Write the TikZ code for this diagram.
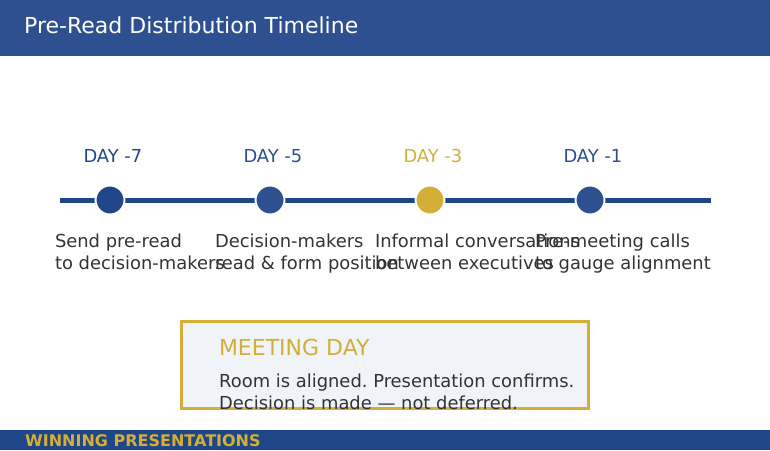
\documentclass[tikz,border=0pt]{standalone}
\usepackage{fontspec}
\setmainfont{DejaVu Sans}
\frenchspacing
\definecolor{headblue}{HTML}{2E5090}
\definecolor{deepblue}{HTML}{1F4788}
\definecolor{gold}{HTML}{D4AF37}
\definecolor{inkgray}{HTML}{333333}
\definecolor{paleblue}{HTML}{F0F3F8}
\begin{document}
\begin{tikzpicture}[x=1pt,y=-1pt,
    daydot/.style={circle,draw=white,line width=2pt,minimum size=29pt,inner sep=0pt},
    daylabel/.style={anchor=base west,inner sep=0pt,font=\fontsize{17.9}{22}\selectfont},
    steptext/.style={anchor=base west,inner sep=0pt,align=left,text=inkgray,font=\fontsize{17.9}{22}\selectfont},
    meetbox/.style={draw=gold,fill=paleblue,line width=3pt,minimum width=407pt,minimum height=87pt,inner sep=0pt}]
    \useasboundingbox (0,0) rectangle (770,450);
    % header and footer bands
    \fill[headblue] (0,0) rectangle (770,56);
    \node[anchor=base west,inner sep=0pt,text=white,font=\fontsize{22}{26}\selectfont] (title) at (24,33.3) {Pre-Read Distribution Timeline};
    \fill[deepblue] (0,430) rectangle (770,450);
    \node[anchor=base west,inner sep=0pt,text=gold,font=\fontsize{16}{19}\selectfont\bfseries] (brand) at (25,446.7) {WINNING PRESENTATIONS};
    % timeline
    \coordinate (tl start) at (60,200);
    \coordinate (tl end) at (711,200);
    \draw[deepblue,line width=5pt] (tl start) -- (tl end);
    \foreach \i/\x/\col/\lab/\txt in {1/110/deepblue/-7/{Send pre-read\\to decision-makers},
                                      2/270/headblue/-5/{Decision-makers\\read \& form position},
                                      3/430/gold/-3/{Informal conversations\\between executives},
                                      4/590/headblue/-1/{Pre-meeting calls\\to gauge alignment}} {
        \node[daydot,fill=\col] (dot\i) at (\x,200) {};
        \node[daylabel,text=\col] (day\i) at (\x-26.7,162.5) {DAY \lab};
        \node[steptext] (step\i) at (\x-55.2,269.5) {\txt};
    }
    % meeting day box
    \node[meetbox] (meeting) at (385,365) {};
    \node[anchor=base west,inner sep=0pt,text=gold,font=\fontsize{22}{26}\selectfont] (meettitle) at (218.8,355.7) {MEETING DAY};
    \node[steptext] (meettext) at (219,409.3) {Room is aligned. Presentation confirms.\\Decision is made — not deferred.};
\end{tikzpicture}
\end{document}
